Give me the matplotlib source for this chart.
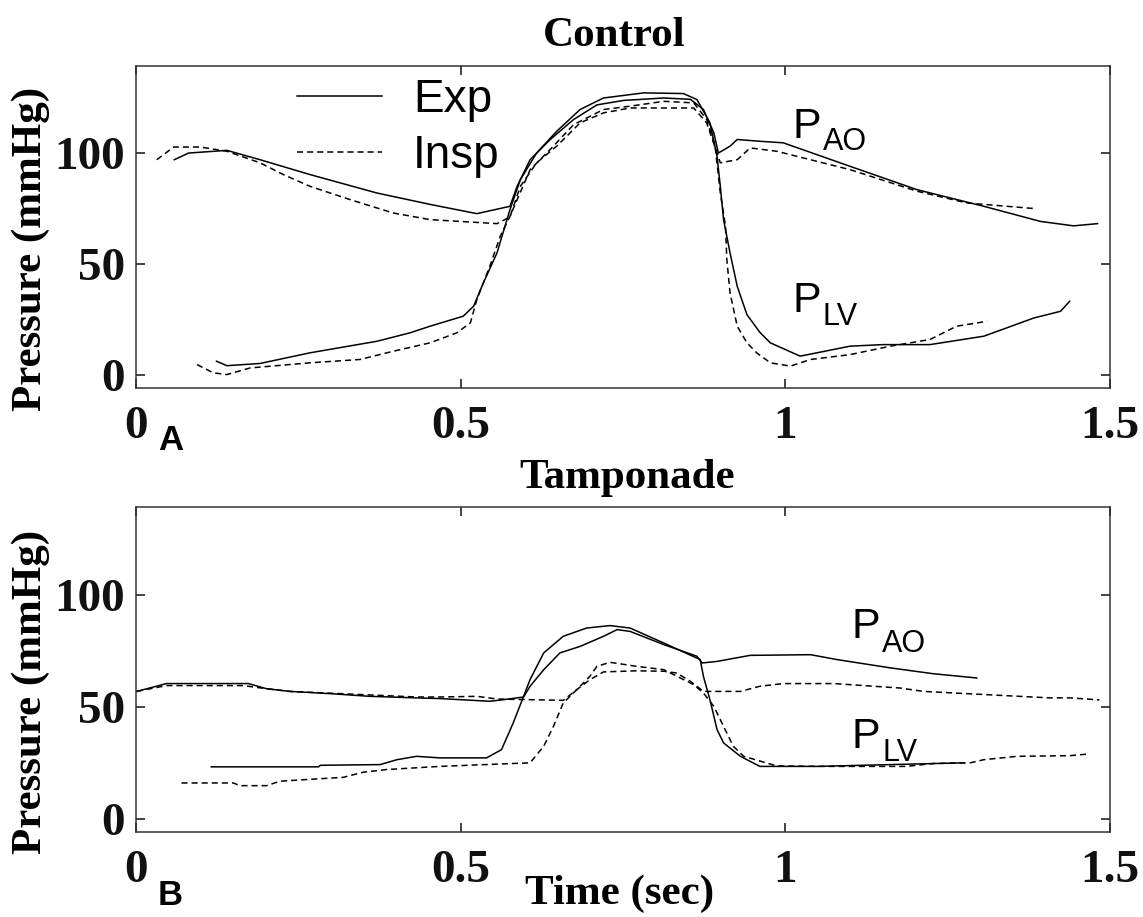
import matplotlib
matplotlib.use("Agg")
import matplotlib.pyplot as plt

plt.rcParams["font.family"] = ["Liberation Serif", "DejaVu Serif"]
plt.rcParams["font.weight"] = "bold"

# ---- Control (panel A): time in s, pressure in mmHg ----
ctl_exp_ao_t = [0.059, 0.081, 0.140, 0.191, 0.268, 0.371, 0.454, 0.525, 0.576, 0.587, 0.607, 0.638,
                0.674, 0.710, 0.751, 0.813, 0.854, 0.874, 0.890, 0.897, 0.915, 0.926, 0.961, 0.997,
                1.100, 1.203, 1.306, 1.393, 1.444, 1.481]
ctl_exp_ao_p = [96.8, 99.8, 101.0, 96.8, 90.1, 81.8, 76.6, 72.5, 75.8, 84.8, 96.8, 105.9,
                114.9, 121.5, 123.5, 124.6, 124.0, 119.4, 108.9, 99.8, 102.9, 105.9, 105.1, 104.4,
                93.8, 83.3, 75.8, 69.0, 67.0, 68.0]

ctl_insp_ao_t = [0.032, 0.058, 0.099, 0.140, 0.191, 0.227, 0.268, 0.330, 0.396, 0.453, 0.556, 0.576,
                 0.592, 0.617, 0.648, 0.684, 0.720, 0.761, 0.859, 0.879, 0.895, 0.900, 0.926, 0.946,
                 0.987, 1.100, 1.203, 1.280, 1.383]
ctl_insp_ao_p = [96.8, 102.5, 102.5, 100.6, 95.4, 90.1, 84.8, 78.8, 72.8, 69.8, 68.0, 71.0,
                 84.8, 95.4, 102.9, 113.4, 117.9, 120.1, 120.1, 113.4, 99.8, 95.4, 96.8, 102.1,
                 100.6, 92.3, 82.6, 77.3, 74.8]

ctl_exp_lv_t = [0.124, 0.140, 0.191, 0.268, 0.371, 0.422, 0.453, 0.504, 0.520, 0.535, 0.556, 0.576,
                0.592, 0.617, 0.648, 0.684, 0.720, 0.782, 0.843, 0.864, 0.884, 0.895, 0.900, 0.905,
                0.915, 0.926, 0.941, 0.961, 0.977, 1.023, 1.100, 1.151, 1.223, 1.306, 1.383, 1.424,
                1.438]
ctl_exp_lv_p = [6.0, 4.0, 5.0, 9.8, 15.0, 18.8, 21.8, 26.3, 30.8, 41.3, 54.8, 74.3,
                87.8, 99.8, 109.6, 119.4, 124.6, 126.9, 126.6, 123.9, 113.4, 98.3, 84.8, 69.8,
                54.8, 39.8, 27.0, 19.0, 14.3, 8.3, 12.8, 13.5, 13.5, 17.3, 25.5, 28.5,
                33.0]

ctl_insp_lv_t = [0.094, 0.119, 0.140, 0.176, 0.268, 0.345, 0.396, 0.453, 0.494, 0.515, 0.525, 0.545,
                 0.561, 0.576, 0.607, 0.638, 0.674, 0.720, 0.761, 0.813, 0.859, 0.879, 0.892, 0.900,
                 0.908, 0.910, 0.915, 0.926, 0.941, 0.956, 0.977, 1.008, 1.039, 1.100, 1.162, 1.223,
                 1.264, 1.311]
ctl_insp_lv_p = [4.5, 0.8, 0.0, 3.0, 5.3, 6.8, 10.5, 14.3, 18.8, 23.3, 33.8, 48.8,
                 62.3, 71.3, 92.3, 101.4, 112.6, 119.4, 120.9, 123.1, 122.4, 114.9, 102.9, 81.8,
                 66.8, 51.8, 36.8, 21.8, 14.3, 9.8, 5.3, 3.8, 6.8, 9.0, 12.8, 15.8,
                 21.8, 24.0]

# ---- Tamponade (panel B) ----
tam_exp_ao_t = [0.001, 0.047, 0.173, 0.201, 0.237, 0.299, 0.360, 0.432, 0.468, 0.545, 0.566, 0.597,
                0.607, 0.628, 0.653, 0.684, 0.720, 0.741, 0.761, 0.813, 0.864, 0.872, 0.895, 0.946,
                1.039, 1.080, 1.162, 1.228, 1.295]
tam_exp_ao_p = [56.8, 60.3, 60.3, 58.0, 56.8, 55.8, 54.6, 53.9, 53.6, 52.4, 53.1, 54.3,
                59.1, 66.5, 74.0, 76.9, 81.4, 84.4, 83.6, 77.7, 72.5, 69.5, 70.2, 72.9,
                73.2, 71.0, 67.3, 64.7, 62.8]

tam_exp_lv_t = [0.116, 0.281, 0.284, 0.376, 0.402, 0.432, 0.468, 0.540, 0.563, 0.581, 0.597, 0.607,
                0.628, 0.658, 0.694, 0.730, 0.761, 0.813, 0.869, 0.874, 0.884, 0.895, 0.905, 0.931,
                0.961, 0.987, 1.049, 1.275]
tam_exp_lv_p = [23.1, 23.1, 23.8, 24.1, 26.3, 27.8, 27.1, 27.1, 30.8, 42.7, 54.6, 62.1,
                74.0, 81.4, 85.1, 86.2, 85.1, 78.4, 71.0, 63.5, 53.1, 39.7, 33.8, 27.8,
                23.3, 23.3, 23.3, 24.9]

tam_insp_ao_t = [0.001, 0.047, 0.165, 0.201, 0.237, 0.432, 0.468, 0.525, 0.556, 0.607, 0.658, 0.679,
                 0.699, 0.720, 0.771, 0.813, 0.833, 0.854, 0.874, 0.890, 0.931, 0.961, 0.997, 1.075,
                 1.177, 1.213, 1.306, 1.408, 1.439, 1.484]
tam_insp_ao_p = [56.8, 59.4, 59.4, 58.0, 56.8, 54.3, 54.3, 54.6, 53.4, 53.1, 52.8, 57.6,
                 62.0, 65.5, 66.0, 65.8, 65.0, 61.3, 56.8, 56.8, 56.8, 59.1, 60.3, 60.3,
                 58.3, 56.8, 55.4, 53.9, 53.9, 53.0]

tam_insp_lv_t = [0.070, 0.150, 0.160, 0.201, 0.222, 0.278, 0.319, 0.350, 0.386, 0.468, 0.607, 0.628,
                 0.643, 0.658, 0.679, 0.699, 0.710, 0.730, 0.771, 0.813, 0.859, 0.874, 0.890, 0.905,
                 0.920, 0.936, 0.987, 1.059, 1.187, 1.228, 1.285, 1.306, 1.357, 1.439, 1.465]
tam_insp_lv_p = [15.9, 15.9, 14.7, 14.7, 16.7, 17.7, 18.4, 20.7, 21.9, 23.3, 24.9, 32.3,
                 41.2, 51.6, 57.6, 63.5, 68.0, 69.8, 68.0, 66.5, 59.8, 56.1, 50.1, 41.2,
                 32.3, 27.8, 23.5, 23.3, 23.3, 24.6, 24.9, 26.3, 27.8, 28.1, 28.8]

x_ticks = [0, 0.5, 1, 1.5]
x_tick_labels = ["0", "0.5", "1", "1.5"]
y_ticks = [0, 50, 100]

LW = 1.1
DASH = (4, 2.6)
SANS = ["Liberation Sans", "DejaVu Sans"]


def style_axes(ax):
    ax.set_xlim(0, 1.5)
    ax.set_ylim(-6, 139)
    ax.set_xticks(x_ticks, x_tick_labels)
    ax.set_yticks(y_ticks)
    ax.tick_params(direction="in", length=6.5, width=1.1, top=True, right=True,
                   labelsize=34, colors="#111111")
    ax.tick_params(axis="x", pad=13)
    ax.tick_params(axis="y", pad=8)
    for s in ax.spines.values():
        s.set_linewidth(1.1)
        s.set_color("#333333")


def sub_label(ax, x, y, main, sub, dy):
    # "P" with a smaller subscript placed right after it
    t = ax.text(x, y, main, transform=ax.transAxes, family=SANS, weight="normal",
                fontsize=31, va="baseline", ha="left")
    ax.figure.canvas.draw()
    bb = t.get_window_extent()
    x1 = ax.transAxes.inverted().transform((bb.x1, bb.y0))[0]
    ax.text(x1 + 0.002, y - dy, sub, transform=ax.transAxes, family=SANS,
            weight="normal", fontsize=22, va="baseline", ha="left")


fig = plt.figure(figsize=(11.43, 9.17), dpi=100)
ax1 = fig.add_axes([0.119, 0.577, 0.852, 0.351])
ax2 = fig.add_axes([0.119, 0.0927, 0.852, 0.354])

ax1.plot(ctl_exp_ao_t, ctl_exp_ao_p, color="black", lw=LW, label="Exp")
ax1.plot(ctl_insp_ao_t, ctl_insp_ao_p, color="black", lw=LW, dashes=DASH, label="Insp")
ax1.plot(ctl_exp_lv_t, ctl_exp_lv_p, color="black", lw=LW)
ax1.plot(ctl_insp_lv_t, ctl_insp_lv_p, color="black", lw=LW, dashes=DASH)

ax2.plot(tam_exp_ao_t, tam_exp_ao_p, color="black", lw=LW)
ax2.plot(tam_insp_ao_t, tam_insp_ao_p, color="black", lw=LW, dashes=DASH)
ax2.plot(tam_exp_lv_t, tam_exp_lv_p, color="black", lw=LW)
ax2.plot(tam_insp_lv_t, tam_insp_lv_p, color="black", lw=LW, dashes=DASH)

style_axes(ax1)
style_axes(ax2)

ax1.legend(loc="upper left", bbox_to_anchor=(0.165, 0.962), frameon=False,
           prop={"family": SANS, "size": 33, "weight": "normal"},
           handlelength=1.86, handletextpad=0.68, labelspacing=0.265,
           borderpad=0, borderaxespad=0)

sub_label(ax1, 0.674, 0.776, "P", "AO", 0.037)
sub_label(ax1, 0.674, 0.236, "P", "LV", 0.040)
sub_label(ax2, 0.735, 0.597, "P", "AO", 0.043)
sub_label(ax2, 0.735, 0.258, "P", "LV", 0.040)

fig.text(0.537, 0.961, "Control", ha="center", va="center", fontsize=31)
fig.text(0.549, 0.479, "Tamponade", ha="center", va="center", fontsize=31)
fig.text(0.542, 0.025, "Time (sec)", ha="center", va="center", fontsize=31)
fig.text(0.027, 0.728, "Pressure (mmHg)", rotation=90, ha="center", va="center", fontsize=31)
fig.text(0.027, 0.245, "Pressure (mmHg)", rotation=90, ha="center", va="center", fontsize=31)
fig.text(0.149, 0.520, "A", family=SANS, weight="bold", ha="center", va="center", fontsize=25)
fig.text(0.149, 0.023, "B", family=SANS, weight="bold", ha="center", va="center", fontsize=25)

fig.savefig("out.png", dpi=100)
